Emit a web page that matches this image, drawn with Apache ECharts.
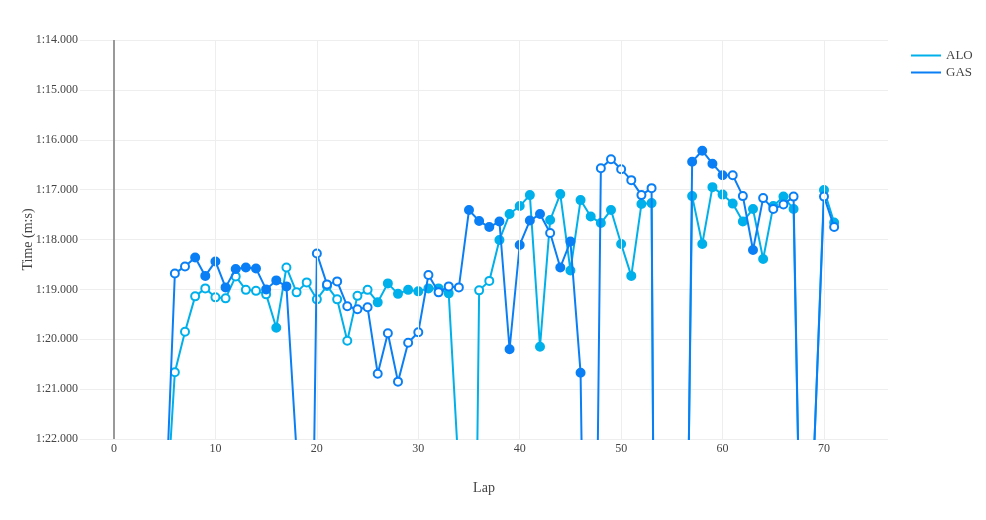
<!DOCTYPE html>
<html>
<head>
<meta charset="utf-8">
<script src="https://cdn.jsdelivr.net/npm/echarts@6/dist/echarts.min.js"></script>
<style>
html,body{margin:0;padding:0;background:#fff;}
#chart{width:986px;height:520px;}
</style>
</head>
<body>
<div id="chart"></div>
<script>
// Laps shown
const laps = [5,6,7,8,9,10,11,12,13,14,15,16,17,18,19,20,21,22,23,24,25,26,27,28,29,30,31,32,33,34,35,36,37,38,39,40,41,42,43,44,45,46,47,48,49,50,51,52,53,54,55,56,57,58,59,60,61,62,63,64,65,66,67,68,69,70,71];
// Lap times in seconds
const aloTimes = [83.96,80.66,79.85,79.14,78.98,79.16,79.18,78.74,79.01,79.03,79.10,79.77,78.56,79.06,78.86,79.20,78.93,79.20,80.03,79.13,79.01,79.26,78.88,79.09,79.01,79.04,78.98,78.98,79.08,82.70,96.50,79.02,78.83,78.01,77.49,77.33,77.11,80.15,77.61,77.09,78.62,77.21,77.54,77.67,77.41,78.09,78.73,77.29,77.27,110,105,92.4,77.13,78.09,76.95,77.10,77.28,77.64,77.39,78.39,77.33,77.14,77.39,88.2,82.36,77.01,77.66];
const gasTimes = [83.86,78.68,78.54,78.36,78.73,78.44,78.96,78.59,78.56,78.58,79.00,78.82,78.94,82.26,93.1,78.28,78.90,78.84,79.34,79.40,79.36,80.69,79.88,80.85,80.07,79.86,78.71,79.06,78.94,78.96,77.41,77.63,77.75,77.64,80.20,78.11,77.62,77.49,77.87,78.56,78.04,80.67,95.0,76.57,76.39,76.59,76.81,77.11,76.97,110,105,93.8,76.44,76.22,76.48,76.71,76.71,77.13,78.21,77.17,77.39,77.30,77.14,88.2,82.36,77.14,77.75];
// Marker type per lap: F = filled, H = hollow
const aloMarks = ['H','H','H','H','H','H','H','H','H','H','H','F','H','H','H','H','H','H','H','H','H','F','F','F','F','F','F','F','F','F','H','H','H','F','F','F','F','F','F','F','F','F','F','F','F','F','F','F','F','F','F','F','F','F','F','F','F','F','F','F','F','F','F','F','F','F','F'];
const gasMarks = ['H','H','H','F','F','F','F','F','F','F','F','F','F','H','H','H','H','H','H','H','H','H','H','H','H','H','H','H','H','H','F','F','F','F','F','F','F','F','H','F','F','F','H','H','H','H','H','H','H','H','H','H','F','F','F','F','H','H','F','H','H','H','H','H','H','H','H'];
const xTickValues = [0,10,20,30,40,50,60,70];
const seriesNames = ['ALO','GAS'];
const seriesColors = ['#00b0ea','#0a7ff5'];

function fmtTime(v){
  const m = Math.floor(v/60);
  const s = v - m*60;
  let ss = s.toFixed(3);
  if (s < 10) ss = '0' + ss;
  return m + ':' + ss;
}
function buildData(times, marks, color){
  return laps.map((lap,i)=>({
    value:[lap, times[i]],
    itemStyle:{
      color: marks[i]==='F' ? color : '#ffffff',
      borderColor: color,
      borderWidth: 2
    }
  }));
}
const font = 'Liberation Serif';
const chart = echarts.init(document.getElementById('chart'), null, {renderer:'canvas'});
const option = {
  animation:false,
  backgroundColor:'#ffffff',
  grid:{left:80, right:98, top:40, bottom:81, containLabel:false},
  legend:{
    orient:'vertical',
    left:906, top:44,
    itemWidth:30, itemHeight:2,
    itemGap:4,
    icon:'rect',
    textStyle:{fontFamily:font, fontSize:13, color:'#444'},
    data:seriesNames
  },
  xAxis:{
    type:'value',
    min:-3.352, max:76.31,
    name:'Lap',
    nameLocation:'middle',
    nameGap:42,
    nameMoveOverlap:false,
    nameTextStyle:{fontFamily:font, fontSize:14, color:'#444'},
    axisLine:{show:false},
    axisTick:{show:false, customValues:xTickValues},
    axisLabel:{customValues:xTickValues, fontFamily:font, fontSize:12, color:'#444', margin:4},
    splitLine:{show:false}
  },
  yAxis:{
    type:'value',
    inverse:true,
    min:74, max:82, interval:1,
    name:'Time (m:s)',
    nameLocation:'middle',
    nameGap:45,
    nameMoveOverlap:false,
    nameRotate:90,
    nameTextStyle:{fontFamily:font, fontSize:14, color:'#444'},
    axisLine:{show:false},
    axisTick:{show:false},
    axisLabel:{formatter:fmtTime, fontFamily:font, fontSize:12, color:'#444', margin:2},
    splitLine:{show:true, lineStyle:{color:'#eeeeee', width:1}}
  },
  series:[
    {
      name:'ALO', type:'line', clip:true,
      symbol:'circle', symbolSize:8,
      color:seriesColors[0],
      lineStyle:{width:2, color:seriesColors[0]},
      data:buildData(aloTimes, aloMarks, seriesColors[0]),
      z:3,
      markLine:{
        silent:true, symbol:'none', animation:false,
        label:{show:false},
        lineStyle:{color:'#eeeeee', width:1, type:'solid'},
        data:xTickValues.filter(v=>v!==0).map(v=>({xAxis:v}))
      }
    },
    {
      name:'GAS', type:'line', clip:true,
      symbol:'circle', symbolSize:8,
      color:seriesColors[1],
      lineStyle:{width:2, color:seriesColors[1]},
      data:buildData(gasTimes, gasMarks, seriesColors[1]),
      z:4,
      markLine:{
        silent:true, symbol:'none', animation:false,
        label:{show:false},
        lineStyle:{color:'#999999', width:2, type:'solid'},
        data:[{xAxis:0}]
      }
    }
  ]
};
chart.setOption(option);
</script>
</body>
</html>
